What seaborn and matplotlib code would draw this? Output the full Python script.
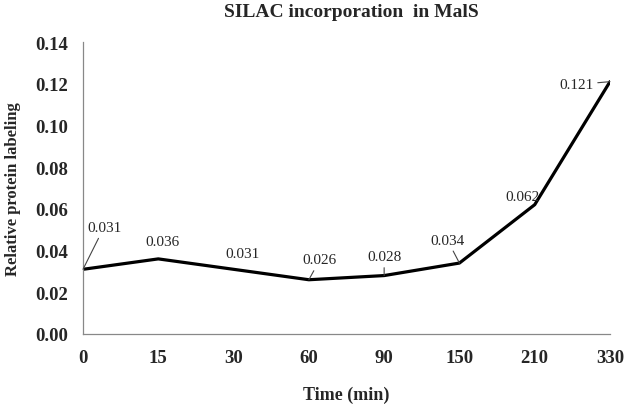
import numpy as np
import pandas as pd
import matplotlib
matplotlib.use("Agg")
import matplotlib.pyplot as plt
import seaborn as sns

# Data
time_labels = ["0", "15", "30", "60", "90", "150", "210", "330"]
labeling = [0.031, 0.036, 0.031, 0.026, 0.028, 0.034, 0.062, 0.121]
label_text = ["0.031", "0.036", "0.031", "0.026", "0.028", "0.034", "0.062", "0.121"]

# label offsets (pixels) and whether a leader line is drawn
label_offsets = [(21, 42), (4, 17), (9, 16), (11, 20), (0, 19), (-12, 23), (-12, 8), (-34, -3)]
has_leader = [True, False, False, True, True, True, False, True]

sns.set_style("white")
plt.rcParams["font.family"] = ["Liberation Serif", "DejaVu Serif"]

df = pd.DataFrame({"pos": np.arange(len(time_labels)), "value": labeling})

fig = plt.figure(figsize=(6.25, 4.06), dpi=100)
ax = fig.add_axes([0.1328, 0.175, 0.976 - 0.1328, 0.894 - 0.175])

sns.lineplot(data=df, x="pos", y="value", color="black", linewidth=2.3, ax=ax)

for i, (txt, off, lead) in enumerate(zip(label_text, label_offsets, has_leader)):
    if lead:
        ax.annotate(txt, xy=(i, labeling[i]), xytext=off, textcoords="offset pixels",
                    ha="center", va="center", fontsize=11,
                    arrowprops=dict(arrowstyle="-", color="#444444", lw=0.8,
                                    shrinkA=1, shrinkB=0))
    else:
        ax.annotate(txt, xy=(i, labeling[i]), xytext=off, textcoords="offset pixels",
                    ha="center", va="center", fontsize=11)

ax.set_xlim(0, len(time_labels) - 1)
ax.set_ylim(0, 0.14)
ax.set_xticks(range(len(time_labels)))
ax.set_xticklabels(time_labels)
ax.set_yticks(np.arange(0, 0.141, 0.02))
ax.set_yticklabels([f"{v:.2f}" for v in np.arange(0, 0.141, 0.02)])
ax.tick_params(axis="y", length=0, labelsize=13.5, pad=11)
ax.tick_params(axis="x", length=0, labelsize=13.5, pad=11)
for lab in ax.get_xticklabels() + ax.get_yticklabels():
    lab.set_fontweight("bold")

sns.despine(ax=ax)
for side in ["left", "bottom"]:
    ax.spines[side].set_color("#888888")
    ax.spines[side].set_linewidth(0.9)

ax.set_xlabel("Time (min)", fontsize=13, fontweight="bold", labelpad=14)
ax.set_ylabel("Relative protein labeling", fontsize=12, fontweight="bold", labelpad=10)
fig.suptitle("SILAC incorporation  in MalS", x=0.563, y=0.99, fontsize=14, fontweight="bold")

fig.savefig("out.png", dpi=100)
